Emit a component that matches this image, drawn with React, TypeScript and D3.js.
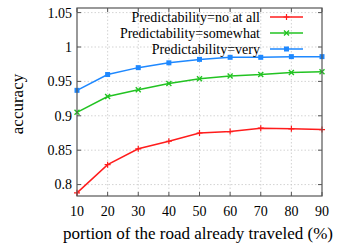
import React from 'react';
import * as d3 from 'd3';

const portions = [10, 20, 30, 40, 50, 60, 70, 80, 90];
const noAtAll = [0.788, 0.829, 0.852, 0.863, 0.875, 0.877, 0.882, 0.881, 0.880];
const somewhat = [0.905, 0.928, 0.938, 0.947, 0.954, 0.958, 0.960, 0.963, 0.964];
const very = [0.937, 0.960, 0.970, 0.977, 0.982, 0.985, 0.985, 0.986, 0.986];
const yTicks = [0.8, 0.85, 0.9, 0.95, 1, 1.05];
const yTickLabels = ['0.8', '0.85', '0.9', '0.95', '1', '1.05'];
const seriesNames = ['Predictability=no at all', 'Predictability=somewhat', 'Predictability=very'];

const W = 342, H = 246;
const margin = { top: 8, right: 20, bottom: 50, left: 77 };
const font = '"Liberation Serif", "Times New Roman", serif';

export default function App() {
  const x = d3.scaleLinear().domain([10, 90]).range([margin.left, W - margin.right]);
  const y = d3.scaleLinear().domain([0.7834, 1.0567]).range([H - margin.bottom, margin.top]);

  const series = [
    { name: seriesNames[0], values: noAtAll, color: '#ff1c1c', marker: 'plus' },
    { name: seriesNames[1], values: somewhat, color: '#22c322', marker: 'cross' },
    { name: seriesNames[2], values: very, color: '#1e88ff', marker: 'square' },
  ];

  const line = d3.line<number>()
    .x((d, i) => x(portions[i]))
    .y(d => y(d));

  // gnuplot-like point types
  const marker = (type: string, cx: number, cy: number, color: string, key: any) => {
    if (type === 'plus') {
      return <path key={key} d={`M${cx - 3},${cy}H${cx + 3}M${cx},${cy - 3}V${cy + 3}`} stroke={color} strokeWidth={1.2} />;
    }
    if (type === 'cross') {
      return <path key={key} d={`M${cx - 2.5},${cy - 2.5}L${cx + 2.5},${cy + 2.5}M${cx - 2.5},${cy + 2.5}L${cx + 2.5},${cy - 2.5}`} stroke={color} strokeWidth={1.4} />;
    }
    return <rect key={key} x={cx - 2.5} y={cy - 2.5} width={5} height={5} fill={color} />;
  };

  const x0 = margin.left, x1 = W - margin.right, y0 = H - margin.bottom, y1 = margin.top;

  return (
    <div style={{ position: 'absolute', left: 0, top: 0 }}>
      <svg width={W} height={H} style={{ display: 'block', background: '#fff' }}>
        {/* grid */}
        <g stroke="#c8c8c8" strokeWidth={0.8} strokeDasharray="1.5,2">
          {portions.slice(1, -1).map(p => (
            <line key={'gx' + p} x1={x(p)} x2={x(p)} y1={y0} y2={y1} />
          ))}
          {yTicks.map(t => (
            <line key={'gy' + t} x1={x0} x2={x1} y1={y(t)} y2={y(t)} />
          ))}
        </g>
        {/* ticks on all sides */}
        <g stroke="#555" strokeWidth={1}>
          {portions.map(p => (
            <g key={'tx' + p}>
              <line x1={x(p)} x2={x(p)} y1={y0} y2={y0 - 4} />
              <line x1={x(p)} x2={x(p)} y1={y1} y2={y1 + 4} />
            </g>
          ))}
          {yTicks.map(t => (
            <g key={'ty' + t}>
              <line x1={x0} x2={x0 + 4} y1={y(t)} y2={y(t)} />
              <line x1={x1} x2={x1 - 4} y1={y(t)} y2={y(t)} />
            </g>
          ))}
        </g>
        {/* series */}
        {series.map((s) => (
          <g key={s.name}>
            <path d={line(s.values) || ''} fill="none" stroke={s.color} strokeWidth={1.5} />
            {s.values.map((v, i) => marker(s.marker, x(portions[i]), y(v), s.color, i))}
          </g>
        ))}
        {/* legend */}
        {series.map((s, si) => {
          const ly = 17 + si * 16;
          return (
            <g key={'lg' + si}>
              <text x={260} y={ly} dy="0.35em" textAnchor="end" fontFamily={font} fontSize={14} fill="#000">{s.name}</text>
              <line x1={270} x2={303} y1={ly} y2={ly} stroke={s.color} strokeWidth={1.5} />
              {marker(s.marker, 286.5, ly, s.color, 'm')}
            </g>
          );
        })}
        {/* border */}
        <rect x={x0} y={y1} width={x1 - x0} height={y0 - y1} fill="none" stroke="#555" strokeWidth={1.2} />
        {/* tick labels */}
        {yTicks.map((t, i) => (
          <text key={'yl' + t} x={x0 - 5} y={y(t)} dy="0.35em" textAnchor="end" fontFamily={font} fontSize={14} fill="#000">{yTickLabels[i]}</text>
        ))}
        {portions.map(p => (
          <text key={'xl' + p} x={x(p)} y={y0 + 20} textAnchor="middle" fontFamily={font} fontSize={14} fill="#000">{p}</text>
        ))}
        <text x={198} y={239} textAnchor="middle" fontFamily={font} fontSize={17} fill="#000">portion of the road already traveled (%)</text>
        <text transform={`translate(23,${(y0 + y1) / 2 + 2}) rotate(-90)`} textAnchor="middle" fontFamily={font} fontSize={17} fill="#000">accuracy</text>
      </svg>
    </div>
  );
}
